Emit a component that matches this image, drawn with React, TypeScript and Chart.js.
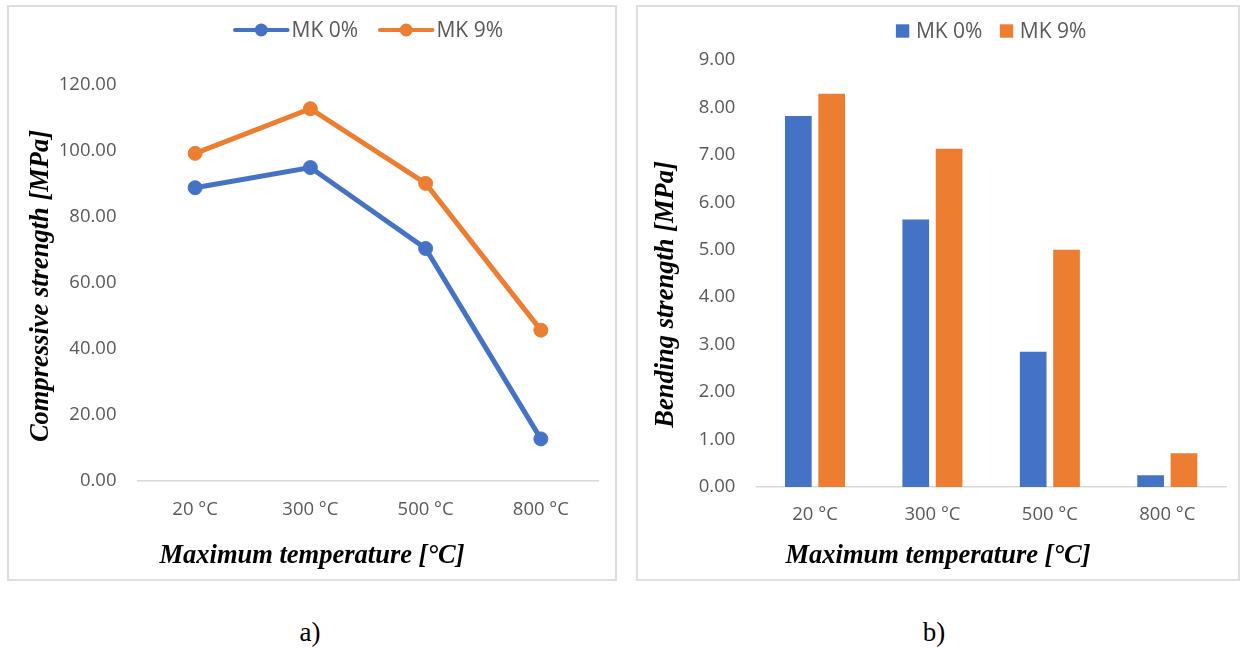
import React, { useEffect, useRef } from "react";
import { Chart, registerables } from "chart.js";

Chart.register(...registerables);

// ---------- data ----------
const categories = ["20 °C", "300 °C", "500 °C", "800 °C"];
const seriesNames = ["MK 0%", "MK 9%"];
const compressiveMK0 = [88.8, 94.9, 70.4, 12.8];
const compressiveMK9 = [99.2, 112.7, 90.1, 45.7];
const bendingMK0 = [7.82, 5.64, 2.85, 0.25];
const bendingMK9 = [8.29, 7.13, 5.0, 0.71];
const compressiveTicks = [0, 20, 40, 60, 80, 100, 120];
const bendingTicks = [0, 1, 2, 3, 4, 5, 6, 7, 8, 9];
const xTitle = "Maximum temperature [°C]";
const yTitleCompressive = "Compressive strength [MPa]";
const yTitleBending = "Bending strength [MPa]";
const captions = ["a)", "b)"];

// ---------- styles ----------
const BLUE = "#4472C4";
const ORANGE = "#ED7D31";
const TEXT_GREY = "#595959";
const AXIS_GREY = "#d9d9d9";
const SANS = '"Open Sans", "Noto Sans", sans-serif';
const SERIF = '"Liberation Serif", "Times New Roman", serif';

type Decor = {
  symbol: "line" | "box";
  symW: number;
  textGap: number;
  itemGap: number;
  legendY: number;
  xTitleY: number;
  yTitleX: number;
  yTitleY: number;
  yTitle: string;
};

function makeDecor(cfg: Decor) {
  return {
    id: "decor",
    afterDraw(chart: any) {
      const ctx: CanvasRenderingContext2D = chart.ctx;
      const area = chart.chartArea;
      ctx.save();
      ctx.font = `21px ${SANS}`;
      const items = chart.data.datasets.map((ds: any) => ({
        label: ds.label as string,
        color: (ds.legendColor as string) || (ds.borderColor as string),
        w: ctx.measureText(ds.label).width,
      }));
      const total =
        items.reduce((s: number, it: any) => s + cfg.symW + cfg.textGap + it.w, 0) +
        cfg.itemGap * (items.length - 1);
      let x = (area.left + area.right) / 2 - total / 2;
      const y = cfg.legendY;
      items.forEach((it: any) => {
        if (cfg.symbol === "line") {
          ctx.strokeStyle = it.color;
          ctx.lineWidth = 4;
          ctx.lineCap = "round";
          ctx.beginPath();
          ctx.moveTo(x + 2, y);
          ctx.lineTo(x + cfg.symW - 2, y);
          ctx.stroke();
          ctx.fillStyle = it.color;
          ctx.beginPath();
          ctx.arc(x + cfg.symW / 2, y, 6.5, 0, Math.PI * 2);
          ctx.fill();
        } else {
          ctx.fillStyle = it.color;
          ctx.fillRect(x, y - 6.7, cfg.symW, 13.4);
        }
        x += cfg.symW + cfg.textGap;
        ctx.fillStyle = TEXT_GREY;
        ctx.textAlign = "left";
        ctx.textBaseline = "middle";
        ctx.fillText(it.label, x, y + 1);
        x += it.w + cfg.itemGap;
      });

      ctx.font = `italic bold 26.5px ${SERIF}`;
      ctx.fillStyle = "#000";
      ctx.textAlign = "center";
      ctx.textBaseline = "middle";
      ctx.fillText(xTitle, chart.width / 2, cfg.xTitleY);
      ctx.translate(cfg.yTitleX, cfg.yTitleY);
      ctx.rotate(-Math.PI / 2);
      ctx.fillText(cfg.yTitle, 0, 0);
      ctx.restore();
    },
  };
}

type Box = { left: number; top: number; width: number; height: number };
type Plot = { left: number; right: number; top: number; bottom: number };

function scalesFor(box: Box, plot: Plot, ticks: number[], ytPad: number) {
  return {
    x: {
      offset: true,
      grid: { display: false, drawTicks: false },
      border: { display: true, color: AXIS_GREY, width: 1.5 },
      ticks: { color: TEXT_GREY, font: { family: SANS, size: 18.5 }, padding: 17, maxRotation: 0 },
      afterFit: (s: any) => {
        s.height = box.height - plot.bottom;
      },
    },
    y: {
      min: ticks[0],
      max: ticks[ticks.length - 1],
      grid: { display: false, drawTicks: false },
      border: { display: false },
      ticks: {
        stepSize: ticks[1] - ticks[0],
        color: TEXT_GREY,
        font: { family: SANS, size: 18.5 },
        padding: ytPad,
        callback: (v: any) => Number(v).toFixed(2),
      },
      afterFit: (s: any) => {
        s.width = plot.left;
      },
    },
  };
}

const LEFT_BOX: Box = { left: 7, top: 5, width: 610, height: 576 };
const RIGHT_BOX: Box = { left: 636, top: 5, width: 604, height: 576 };

function LineBox() {
  const ref = useRef<HTMLCanvasElement>(null);
  useEffect(() => {
    const box = LEFT_BOX;
    const plot: Plot = { left: 130.5, right: 591.5, top: 79.6, bottom: 476.2 };
    const chart = new Chart(ref.current!, {
      type: "line",
      data: {
        labels: categories,
        datasets: [
          {
            label: seriesNames[0],
            data: compressiveMK0,
            borderColor: BLUE,
            backgroundColor: BLUE,
            borderWidth: 5,
            pointRadius: 7,
            pointBorderWidth: 1,
            pointBackgroundColor: BLUE,
            tension: 0,
          } as any,
          {
            label: seriesNames[1],
            data: compressiveMK9,
            borderColor: ORANGE,
            backgroundColor: ORANGE,
            borderWidth: 5,
            pointRadius: 7,
            pointBorderWidth: 1,
            pointBackgroundColor: ORANGE,
            tension: 0,
          } as any,
        ],
      },
      options: {
        animation: false,
        responsive: false,
        layout: { padding: { left: 0, top: plot.top, right: box.width - plot.right, bottom: 0 } },
        plugins: { legend: { display: false }, tooltip: { enabled: false } },
        scales: scalesFor(box, plot, compressiveTicks, 21) as any,
      },
      plugins: [
        makeDecor({
          symbol: "line",
          symW: 56.6,
          textGap: 2,
          itemGap: 19.7,
          legendY: 25,
          xTitleY: 551,
          yTitleX: 34,
          yTitleY: 281,
          yTitle: yTitleCompressive,
        }),
      ],
    });
    return () => chart.destroy();
  }, []);
  return (
    <canvas
      ref={ref}
      width={LEFT_BOX.width}
      height={LEFT_BOX.height}
      style={{ position: "absolute", left: LEFT_BOX.left, top: LEFT_BOX.top, width: LEFT_BOX.width, height: LEFT_BOX.height }}
    />
  );
}

function BarBox() {
  const ref = useRef<HTMLCanvasElement>(null);
  useEffect(() => {
    const box = RIGHT_BOX;
    const plot: Plot = { left: 120.3, right: 590, top: 55, bottom: 482 };
    const chart = new Chart(ref.current!, {
      type: "bar",
      data: {
        labels: categories,
        datasets: [
          { label: seriesNames[0], data: bendingMK0, backgroundColor: BLUE, legendColor: BLUE, borderWidth: 0 } as any,
          { label: seriesNames[1], data: bendingMK9, backgroundColor: ORANGE, legendColor: ORANGE, borderWidth: 0 } as any,
        ],
      },
      options: {
        animation: false,
        responsive: false,
        datasets: { bar: { categoryPercentage: 0.568, barPercentage: 0.8 } },
        layout: { padding: { left: 0, top: plot.top, right: box.width - plot.right, bottom: 0 } },
        plugins: { legend: { display: false }, tooltip: { enabled: false } },
        scales: scalesFor(box, plot, bendingTicks, 21) as any,
      },
      plugins: [
        makeDecor({
          symbol: "box",
          symW: 13.4,
          textGap: 6.6,
          itemGap: 17.4,
          legendY: 26,
          xTitleY: 551,
          yTitleX: 30,
          yTitleY: 289.5,
          yTitle: yTitleBending,
        }),
      ],
    });
    return () => chart.destroy();
  }, []);
  return (
    <canvas
      ref={ref}
      width={RIGHT_BOX.width}
      height={RIGHT_BOX.height}
      style={{ position: "absolute", left: RIGHT_BOX.left, top: RIGHT_BOX.top, width: RIGHT_BOX.width, height: RIGHT_BOX.height }}
    />
  );
}

function Frame({ b }: { b: Box }) {
  return (
    <div
      style={{
        position: "absolute",
        left: b.left,
        top: b.top,
        width: b.width,
        height: b.height,
        boxSizing: "border-box",
        border: "2px solid #dedede",
        pointerEvents: "none",
      }}
    />
  );
}

export default function App() {
  return (
    <div style={{ position: "absolute", left: 0, top: 0, width: 1243, height: 651, background: "#fff", overflow: "hidden" }}>
      <LineBox />
      <BarBox />
      <Frame b={LEFT_BOX} />
      <Frame b={RIGHT_BOX} />
      <div style={{ position: "absolute", left: 260, width: 100, top: 617, textAlign: "center", font: `27px ${SERIF}`, color: "#000" }}>
        {captions[0]}
      </div>
      <div style={{ position: "absolute", left: 884, width: 100, top: 617, textAlign: "center", font: `27px ${SERIF}`, color: "#000" }}>
        {captions[1]}
      </div>
    </div>
  );
}
